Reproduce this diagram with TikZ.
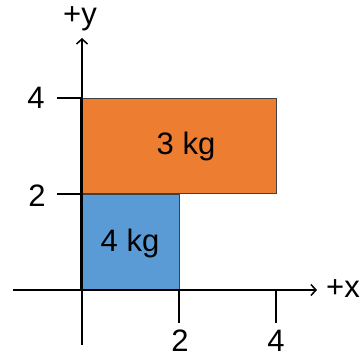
\documentclass[tikz,border=0pt]{standalone}
\usepackage{fontspec}
\setmainfont{Liberation Sans}
\usetikzlibrary{arrows.meta}
\definecolor{boxorange}{HTML}{ED7D31}
\definecolor{boxblue}{HTML}{5B9BD5}
\definecolor{edgegrey}{HTML}{404040}
\begin{document}
\begin{tikzpicture}[x=1pt,y=-1pt,
  lbl/.style={font=\fontsize{31}{34}\selectfont, inner sep=0pt},
  massbox/.style={draw=edgegrey, line width=1pt, inner sep=0pt, anchor=north west},
  axis/.style={line width=1.5pt, -{Straight Barb[length=5pt,width=11pt,line width=1.5pt]}},
  tick/.style={line width=1.5pt}]
\useasboundingbox (0,0) rectangle (360,358);
% boxes
\node[massbox, fill=boxorange, minimum width=194pt, minimum height=95pt] (orange) at (82,98) {};
\node[massbox, fill=boxblue, minimum width=97pt, minimum height=95pt] (blue) at (82,194) {};
\node[lbl] (t3) at (186,146) {3 kg};
\node[lbl] (t4) at (130,243) {4 kg};
% axes
\coordinate (ybot) at (82,345);
\coordinate (ytop) at (82,38);
\coordinate (xleft) at (13,290);
\coordinate (xright) at (317,290);
\draw[axis] (ybot) -- (ytop);
\draw[axis] (xleft) -- (xright);
\draw[line width=3pt] (82,98) -- (82,290);
% ticks
\coordinate (ty4a) at (57,98);
\coordinate (ty2a) at (57,194);
\draw[tick] (ty4a) -- (orange.north west);
\draw[tick] (ty2a) -- (blue.north west);
\coordinate (tx2a) at (179,290);
\coordinate (tx2b) at (179,323);
\coordinate (tx4a) at (276,290);
\coordinate (tx4b) at (276,323);
\draw[tick] (tx2a) -- (tx2b);
\draw[tick] (tx4a) -- (tx4b);
% labels
\node[lbl] (ly) at (80,19) {+y};
\node[lbl, anchor=west] (lx) at (326,289) {+x};
\node[lbl] (l4y) at (36,98) {4};
\node[lbl] (l2y) at (37,196) {2};
\node[lbl] (l2x) at (180,341) {2};
\node[lbl] (l4x) at (276,341) {4};
\end{tikzpicture}
\end{document}
